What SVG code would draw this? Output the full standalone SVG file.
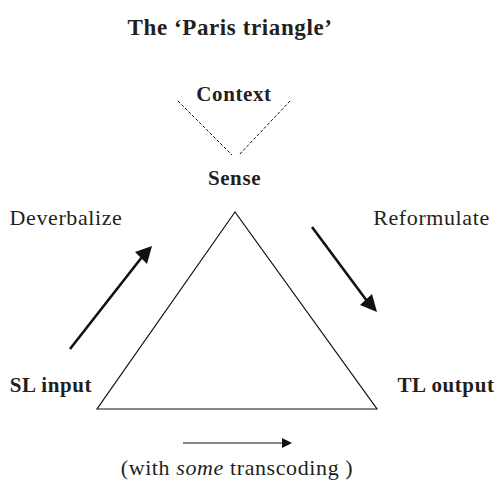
<svg xmlns="http://www.w3.org/2000/svg" width="498" height="481" viewBox="0 0 498 481">
  <style>
    text { font-family: "Liberation Serif", "DejaVu Serif", serif; fill: #231f20; text-anchor: middle; }
    .b { font-weight: bold; font-size: 21px; letter-spacing: 0.6px; }
    .r { font-size: 22px; letter-spacing: 0.6px; }
    .thick { stroke: #111; stroke-width: 2.6; fill: none; }
    .thin { stroke: #111; stroke-width: 1.2; fill: none; }
    .dash { stroke: #111; stroke-width: 1; stroke-dasharray: 3 2; fill: none; }
    .head { fill: #111; }
  </style>

  <text id="title" x="230" y="35" font-weight="bold" font-size="23" letter-spacing="0.6">The ‘Paris triangle’</text>

  <g id="context"><text class="b" x="234" y="101">Context</text></g>
  <g id="sense"><text class="b" x="234.5" y="185">Sense</text></g>
  <g id="sl-input"><text class="b" x="51" y="392">SL input</text></g>
  <g id="tl-output"><text class="b" x="446" y="392">TL output</text></g>
  <g id="deverbalize"><text class="r" x="66" y="225">Deverbalize</text></g>
  <g id="reformulate"><text class="r" x="431.5" y="225">Reformulate</text></g>
  <g id="transcoding"><text class="r" x="237" y="475">(with <tspan font-style="italic">some</tspan> transcoding )</text></g>

  <g id="triangle">
    <polygon points="235,212 97,409 377,409" fill="none" stroke="#111" stroke-width="1.2"/>
  </g>

  <g id="connectors">
    <!-- dashed links from Context down to Sense -->
    <path class="dash" d="M178,101 L232,155"/>
    <path class="dash" d="M290,101 L239,155"/>
    <!-- Deverbalize arrow -->
    <path class="thick" d="M70,349 L142,257"/>
    <path class="head" d="M152,246 L135,252 L147,264 z"/>
    <!-- Reformulate arrow -->
    <path class="thick" d="M312,227 L367,301"/>
    <path class="head" d="M377,312 L360,305 L372,294 z"/>
    <!-- transcoding arrow -->
    <path class="thin" d="M183,443 L283,443"/>
    <path class="head" d="M292,443 L282,438 L282,448 z"/>
  </g>
</svg>
